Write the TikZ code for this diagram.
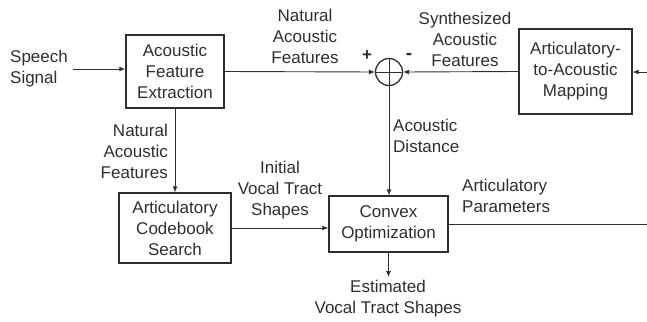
\documentclass[tikz,border=0pt]{standalone}
\usepackage{fontspec}
\setmainfont{Liberation Sans}
\usetikzlibrary{arrows.meta,calc}
\definecolor{ink}{gray}{0.18}
\begin{document}
\begin{tikzpicture}[x=1pt,y=-1pt,
  every node/.style={font=\fontsize{17}{21}\selectfont, text=ink, inner sep=0pt},
  blk/.style={draw=ink, line width=1.3pt, align=center},
  lbl/.style={align=center},
  conn/.style={draw=ink, line width=0.9pt},
  arr/.style={conn, -{Latex[length=6pt,width=5pt]}}]
\useasboundingbox (0,0) rectangle (647,321);
% blocks
\node[blk, minimum width=98pt, minimum height=73pt] (afe) at (175,71.5) {Acoustic\\Feature\\Extraction};
\node[blk, minimum width=113pt, minimum height=85pt] (map) at (575.5,71.5) {Articulatory-\\to-Acoustic\\Mapping};
\node[blk, minimum width=112pt, minimum height=70pt] (cbs) at (175,228) {Articulatory\\Codebook\\Search};
\node[blk, minimum width=119pt, minimum height=56pt] (cvx) at (388.5,224) {Convex\\Optimization};
\node[draw=ink, line width=1.3pt, circle, minimum size=27pt] (sum) at (389,72) {};
\draw[conn] (sum.north) -- (sum.south) (sum.west) -- (sum.east);
% labels
\node[lbl, align=left] (speech) at (39,69) {Speech\\Signal};
\node[lbl] (nat1) at (305,36) {Natural\\Acoustic\\Features};
\node[lbl] (syn) at (465,39) {Synthesized\\Acoustic\\Features};
\node[lbl, font=\fontsize{17}{21}\selectfont\bfseries] (plus) at (367,56) {+};
\node[lbl, font=\fontsize{19}{21}\selectfont\bfseries] (minus) at (409,56) {-};
\node[lbl, align=left, anchor=west] (dist) at (393,135.5) {Acoustic\\Distance};
\node[lbl, align=right, anchor=east] (nat2) at (168,151) {Natural\\Acoustic\\Features};
\node[lbl] (init) at (280,190) {Initial\\Vocal Tract\\Shapes};
\node[lbl, align=left, anchor=west] (artp) at (462,196) {Articulatory\\Parameters};
\node[lbl] (est) at (388,299) {Estimated\\Vocal Tract Shapes};
% coordinates
\coordinate (sin) at (73,69);
\coordinate (rin) at (647,72);
\coordinate (rout) at (647,224);
\coordinate (eout) at (388.5,277);
% connectors
\draw[arr] (sin) -- (sin -| afe.west);
\draw[arr] (afe.east) -- (sum.west);
\draw[arr] (map.west) -- (sum.east);
\draw[arr] (rin) -- (rin -| map.east);
\draw[arr] (sum.south) -- (sum.south |- cvx.north);
\draw[arr] (afe.south) -- (cbs.north);
\draw[arr] (cbs.east) -- (cbs.east -| cvx.west);
\draw[arr] (cvx.south) -- (eout);
\draw[conn] (cvx.east) -- (cvx.east -| rout);
\end{tikzpicture}
\end{document}
